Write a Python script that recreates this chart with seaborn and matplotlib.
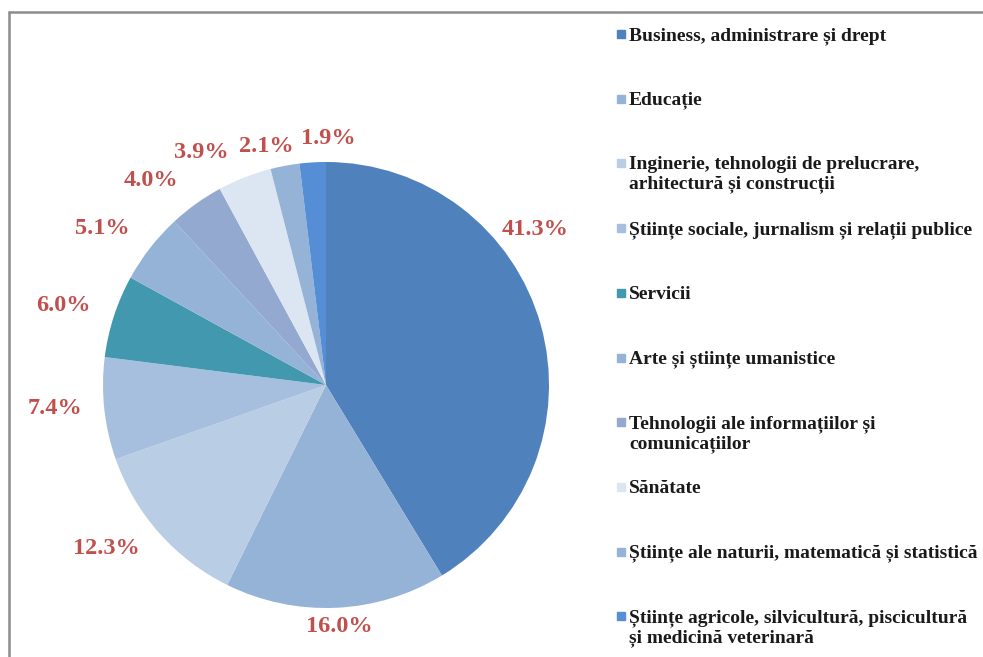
import matplotlib
matplotlib.use("Agg")
import numpy as np
import matplotlib.pyplot as plt
import seaborn as sns

sns.set_theme(style="white")
plt.rcParams['font.family'] = ['Liberation Serif', 'DejaVu Serif']

# Date: ponderea pe domenii de studiu (%)
categories = [
    "Business, administrare și drept",
    "Educație",
    "Inginerie, tehnologii de prelucrare,\narhitectură și construcții",
    "Științe sociale, jurnalism și relații publice",
    "Servicii",
    "Arte și științe umanistice",
    "Tehnologii ale informațiilor și\ncomunicațiilor",
    "Sănătate",
    "Științe ale naturii, matematică și statistică",
    "Științe agricole, silvicultură, piscicultură\nși medicină veterinară",
]
shares = [41.3, 16.0, 12.3, 7.4, 6.0, 5.1, 4.0, 3.9, 2.1, 1.9]
colors = ["#4f81bd", "#95b3d7", "#b9cde5", "#a7bfde", "#4198af",
          "#95b3d7", "#93a9cf", "#dce6f2", "#95b3d7", "#558ed5"]

# ajustari pentru etichete (grade, distanta in px)
label_shift = [21, 0.6, -5, -1.2, 1.2, 3, 5, 6.8, 3.5, -4]
label_dist = [261, 242, 274, 272, 274, 273, 269, 264, 246, 247]

fig = plt.figure(figsize=(9.83, 6.57), dpi=100)
ax = fig.add_axes([0, 0, 1, 1])

cx, cy, r = 326, 272, 223
wedges, _ = ax.pie(shares, colors=colors, startangle=90, counterclock=False,
                   center=(cx, cy), radius=r, wedgeprops=dict(linewidth=0))
ax.set_xlim(0, 983)
ax.set_ylim(0, 657)
ax.set_aspect('equal')
ax.axis('off')

# etichete procentuale
for w, v, s, d in zip(wedges, shares, label_shift, label_dist):
    ang = np.deg2rad((w.theta1 + w.theta2) / 2 + s)
    ax.text(cx + d * np.cos(ang), cy + d * np.sin(ang), f"{v:.1f}%",
            ha='center', va='center', color='#c0504d', fontsize=17.5,
            fontweight='bold')

# legenda
for i, (lab, c) in enumerate(zip(categories, colors)):
    y = 657 - (34 + i * 64.7)
    ax.plot(621, y, marker='s', markersize=6, color=c, linestyle='none')
    ax.text(629, y + 7, lab, ha='left', va='top', fontsize=14,
            fontweight='bold', color='#1a1a1a', linespacing=1.15)

# chenar
ax.plot([9, 9], [-10, 645], color='#8c8c8c', lw=1.8, clip_on=False)
ax.plot([9, 1000], [645, 645], color='#8c8c8c', lw=1.8, clip_on=False)

fig.savefig("out.png", dpi=100)
